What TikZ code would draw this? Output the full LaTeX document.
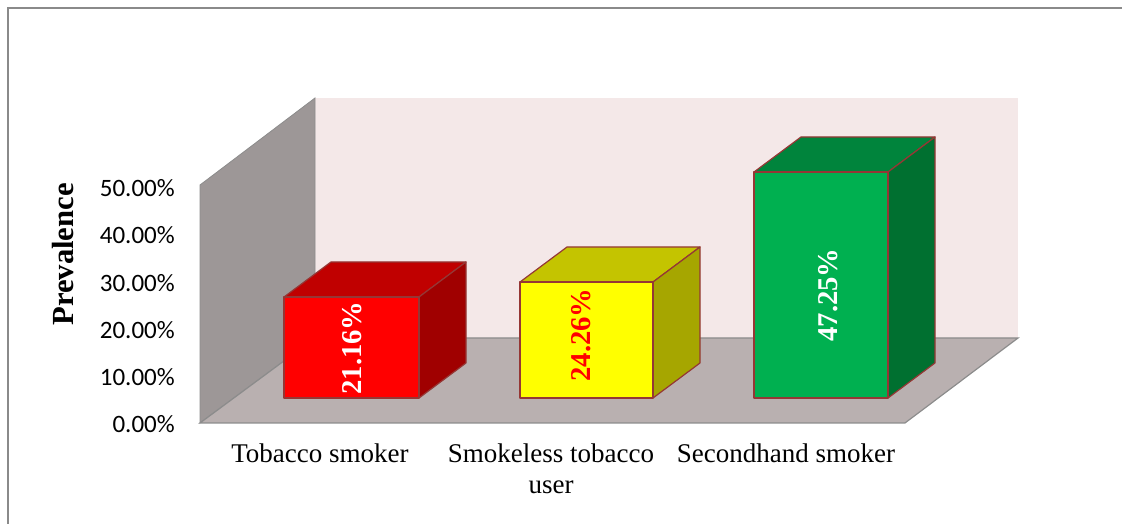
\documentclass[tikz,border=0pt]{standalone}
\usepackage{fontspec}
\setmainfont{Liberation Serif}
\newfontfamily\calib{Carlito}
\usepackage{xcolor}
\definecolor{framegray}{RGB}{138,138,138}
\definecolor{wallpink}{RGB}{244,232,232}
\definecolor{wallgray}{RGB}{157,151,151}
\definecolor{floorgray}{RGB}{185,176,176}
\definecolor{edgegray}{RGB}{140,140,140}
\definecolor{baredge}{RGB}{149,55,53}
\definecolor{redfront}{RGB}{255,0,0}
\definecolor{redtop}{RGB}{192,0,0}
\definecolor{redside}{RGB}{160,0,0}
\definecolor{yelfront}{RGB}{255,255,0}
\definecolor{yeltop}{RGB}{196,196,0}
\definecolor{yelside}{RGB}{166,166,0}
\definecolor{grnfront}{RGB}{0,176,80}
\definecolor{grntop}{RGB}{0,132,60}
\definecolor{grnside}{RGB}{0,112,48}

\begin{document}
\begin{tikzpicture}[x=0.75pt, y=0.75pt,
  ticklabel/.style={anchor=east, inner sep=0pt, font=\calib\fontsize{18.75}{22}\selectfont},
  catlabel/.style={anchor=base, inner sep=0pt, align=center, font=\fontsize{20.25}{23.25}\selectfont},
  barlabel/.style={rotate=90, inner sep=0pt, font=\bfseries\fontsize{21.5}{24}\selectfont},
  baredges/.style={draw=baredge, line width=0.9pt, line join=round}]
\useasboundingbox (0,0) rectangle (1122,524);

% outer frame
\draw[framegray, line width=1.5pt] (7.5,-5) -- (7.5,515.5) -- (1130,515.5);

% walls and floor
\fill[wallpink] (315,186) rectangle (1018,426);
\filldraw[fill=wallgray, draw=edgegray, line width=0.6pt] (200,101) -- (200,339) -- (315,426) -- (315,186) -- cycle;
\filldraw[fill=floorgray, draw=edgegray, line width=0.9pt] (200,101) -- (905,101) -- (1018,186) -- (315,186) -- cycle;

% bar: tobacco smoker
\filldraw[fill=redtop, baredges] (284,227) -- (331,262) -- (466,262) -- (419,227) -- cycle;
\filldraw[fill=redside, baredges] (419,126) -- (466,161) -- (466,262) -- (419,227) -- cycle;
\filldraw[fill=redfront, baredges] (284,126) rectangle (419,227);

% bar: smokeless tobacco user
\filldraw[fill=yeltop, baredges] (520,242) -- (567,277) -- (700,277) -- (653,242) -- cycle;
\filldraw[fill=yelside, baredges] (653,126) -- (700,161) -- (700,277) -- (653,242) -- cycle;
\filldraw[fill=yelfront, baredges] (520,126) rectangle (653,242);

% bar: secondhand smoker
\filldraw[fill=grntop, baredges] (754,352) -- (801,387) -- (935,387) -- (888,352) -- cycle;
\filldraw[fill=grnside, baredges] (888,126) -- (935,161) -- (935,387) -- (888,352) -- cycle;
\filldraw[fill=grnfront, baredges] (754,126) rectangle (888,352);

% values
\node[barlabel, text=white] (vsmoker) at (352.5,176) {21.16\%};
\node[barlabel, text=redfront] (vsmokeless) at (581.5,189) {24.26\%};
\node[barlabel, text=white] (vsecond) at (828.5,229) {47.25\%};

% axis
\node[ticklabel] (t0) at (175,99.5) {0.00\%};
\node[ticklabel] (t10) at (175,146.8) {10.00\%};
\node[ticklabel] (t20) at (175,194.1) {20.00\%};
\node[ticklabel] (t30) at (175,241.4) {30.00\%};
\node[ticklabel] (t40) at (175,288.7) {40.00\%};
\node[ticklabel] (t50) at (175,336) {50.00\%};
\node[rotate=90, inner sep=0pt, font=\bfseries\fontsize{23}{26}\selectfont] (ylab) at (63,269.5) {Prevalence};

% categories
\node[catlabel] (csmoker) at (320,61) {Tobacco smoker};
\node[catlabel] (csmokeless) at (551,30) {Smokeless tobacco\\user};
\node[catlabel] (csecond) at (786,61) {Secondhand smoker};
\end{tikzpicture}
\end{document}
